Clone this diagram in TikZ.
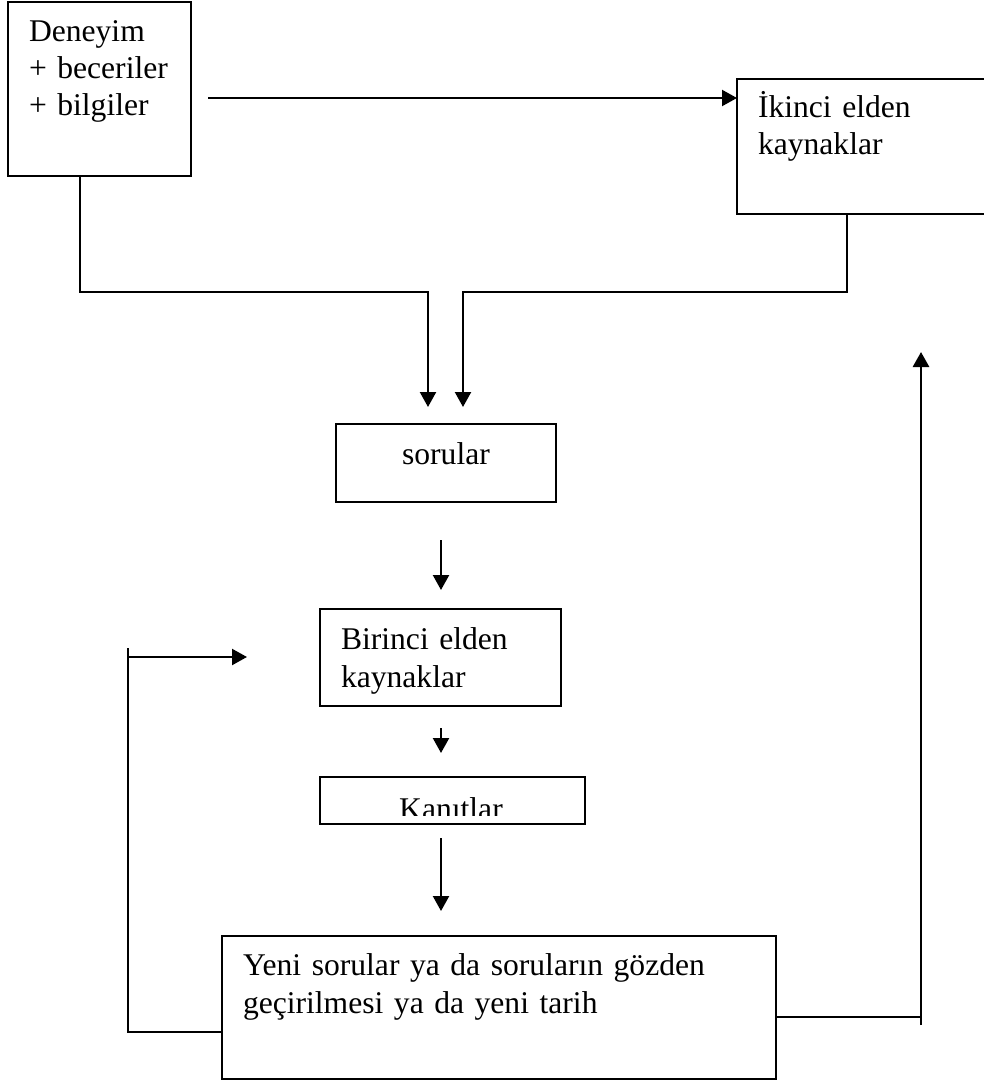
\documentclass[tikz,border=0pt]{standalone}
\usepackage{fontspec}
\setmainfont{Liberation Serif}
\usetikzlibrary{arrows.meta}
\begin{document}
\begin{tikzpicture}[x=0.5pt,y=-0.5pt,
  box/.style={draw, line width=1.1pt, inner sep=0pt, outer sep=0pt},
  txt/.style={inner sep=0pt, outer sep=0pt, align=left,
    font=\fontsize{15.8pt}{18.5pt}\selectfont},
  wide/.style={font=\fontsize{15.8pt}{19pt}\selectfont},
  link/.style={line width=1.1pt},
  arr/.style={link, -{Triangle[length=7.5pt,width=8pt]}}]
\clip (0,0) rectangle (984,1081);
\fill[white] (0,0) rectangle (984,1081);

% boxes
\node[box, minimum width=91.5pt, minimum height=87pt] (exp) at (99.5,89) {};
\node[box, minimum width=131.5pt, minimum height=67.5pt] (sec) at (868.5,146.5) {};
\node[box, minimum width=110pt, minimum height=39pt] (sor) at (446,463) {};
\node[box, minimum width=120.5pt, minimum height=48.5pt] (bir) at (440.5,657.5) {};
\node[box, minimum width=132.5pt, minimum height=23.5pt] (kan) at (452.5,800.5) {};
\node[box, minimum width=277pt, minimum height=71.5pt] (new) at (499,1007.5) {};

% texts
\node[txt, anchor=base west, text width=85pt] (expt) at (29,42) {Deneyim\\+ beceriler\\+ bilgiler};
\node[txt, anchor=base west, text width=110pt] (sect) at (758,118) {İkinci elden\\kaynaklar};
\node[txt, anchor=base] (sort) at (446,464) {sorular};
\node[txt, wide, anchor=base west, text width=115pt] (birt) at (341,649) {Birinci elden\\kaynaklar};
\begin{scope}
  \clip (320,777) rectangle (585,815);
  \node[txt, anchor=base] (kant) at (451,819) {Kanıtlar};
\end{scope}
\node[txt, wide, anchor=base west, text width=265pt] (newt) at (243,975) {Yeni sorular ya da soruların gözden\\geçirilmesi ya da yeni tarih};

% connectors
\draw[arr, shorten <=8.5pt] (exp.east |- 0,98) -- (sec.west |- 0,98);
\draw[arr, shorten >=8.5pt] (exp.south -| 80,0) |- (428,292) -- (sor.north -| 428,0);
\draw[arr, shorten >=8.5pt] (sec.south -| 847,0) |- (463,292) -- (sor.north -| 463,0);
\draw[arr, shorten <=19pt, shorten >=9.5pt] (sor.south -| 441,0) -- (bir.north -| 441,0);
\draw[arr, shorten <=11pt, shorten >=12pt] (bir.south -| 441,0) -- (kan.north -| 441,0);
\draw[arr, shorten <=7pt, shorten >=12.5pt] (kan.south -| 441,0) -- (new.north -| 441,0);

% feedback on the left
\coordinate (lb) at (128,1032);
\coordinate (lt) at (128,648);
\coordinate (la) at (128,657);
\coordinate (lend) at (247,657);
\draw[link] (new.west |- lb) -- (lb) -- (lt);
\draw[arr] (la) -- (lend);

% feedback on the right
\coordinate (rb) at (921,1017);
\coordinate (rl) at (921,1025);
\coordinate (rend) at (921,352);
\draw[link] (new.east |- rb) -- (rb);
\draw[arr, line width=1.4pt] (rl) -- (rend);
\end{tikzpicture}
\end{document}
